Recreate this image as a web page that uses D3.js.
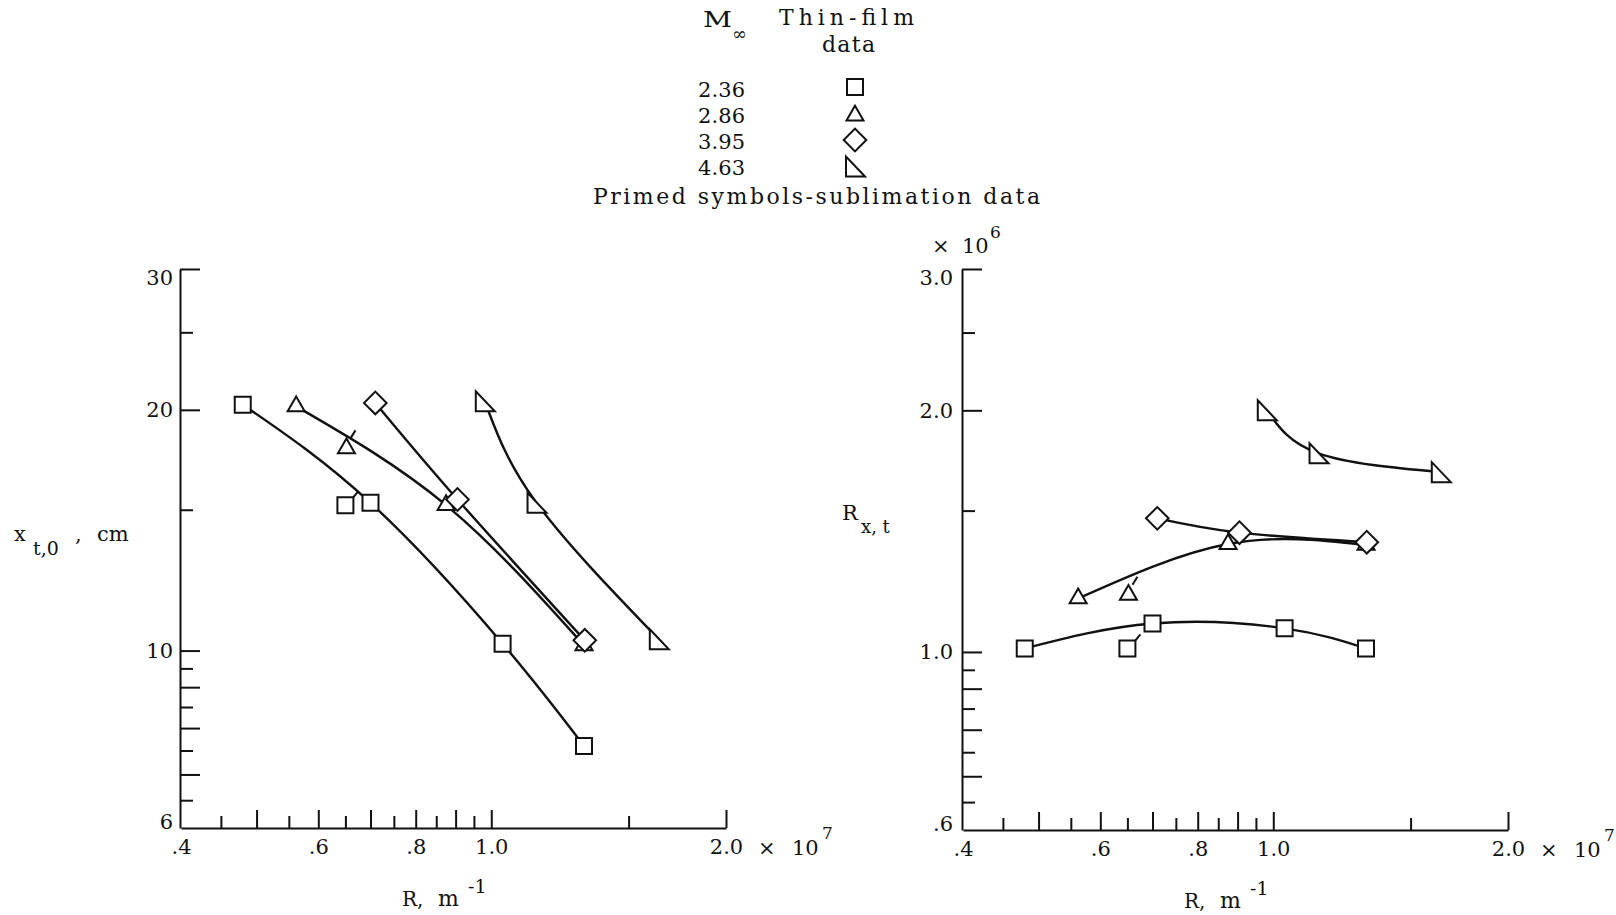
<!DOCTYPE html>
<html>
<head>
<meta charset="utf-8">
<script src="https://cdn.jsdelivr.net/npm/d3@7"></script>
<style>
  body { margin: 0; background: #fff; }
  svg { display: block; }
  text { font-family: "DejaVu Serif", "Liberation Serif", serif; fill: #111; }
</style>
</head>
<body>
<svg id="chart" width="1616" height="915"></svg>
<script>
// Free-stream Mach numbers (legend order) and their symbols
const machLabels = ["2.36", "2.86", "3.95", "4.63"];
const machSymbols = ["square", "triangle", "diamond", "rtriangle"];

// Unit Reynolds number R (x 10^7 per m) of each point, per Mach number
const R_236 = [0.48, 0.65, 0.70, 1.034, 1.315];
const R_286 = [0.562, 0.652, 0.875, 1.315];
const R_395 = [0.71, 0.905, 1.318];
const R_463 = [0.981, 1.143, 1.64];

// Transition location x_t,0 (cm)
const xt_236 = [20.3, 15.2, 15.3, 10.2, 7.6];
const xt_286 = [20.2, 17.9, 15.2, 10.15];
const xt_395 = [20.4, 15.45, 10.3];
const xt_463 = [20.5, 15.3, 10.33];

// Transition Reynolds number R_x,t (x 10^6)
const Rxt_236 = [1.01, 1.01, 1.085, 1.07, 1.01];
const Rxt_286 = [1.166, 1.178, 1.363, 1.36];
const Rxt_395 = [1.467, 1.408, 1.37];
const Rxt_463 = [2.0, 1.768, 1.675];

// Sublimation (primed) points
const primed_236 = [false, true, false, false, false];
const primed_286 = [false, true, false, false];
const primed_395 = [false, false, false];
const primed_463 = [false, false, false];

// Axis ticks
const xLabeled = [0.4, 0.6, 0.8, 1.0, 2.0];
const xLong = [0.5, 0.6, 0.7, 0.8, 0.9, 1.0, 2.0];
const xShort = [0.45, 0.55, 0.65, 0.75, 0.85, 0.95, 1.5];
const xtLabeled = [6, 10, 20, 30];
const xtLong = [7, 8, 9, 10, 20, 30];
const xtShort = [6.5, 7.5, 8.5, 9.5, 15, 25];
const RxtLabeled = [0.6, 1.0, 2.0, 3.0];
const RxtLong = [0.7, 0.8, 0.9, 1.0, 2.0, 3.0];
const RxtShort = [0.65, 0.75, 0.85, 0.95, 1.5, 2.5];

const svg = d3.select("#chart");
const INK = "#111";
const FONT = '"DejaVu Serif", "Liberation Serif", serif';

function buildSeries(R, v, primed, i) {
  return {
    symbol: machSymbols[i],
    points: R.map((r, k) => ({ r: r, v: v[k], primed: primed[k] }))
  };
}
const leftSeries = [
  buildSeries(R_236, xt_236, primed_236, 0),
  buildSeries(R_286, xt_286, primed_286, 1),
  buildSeries(R_395, xt_395, primed_395, 2),
  buildSeries(R_463, xt_463, primed_463, 3)
];
const rightSeries = [
  buildSeries(R_236, Rxt_236, primed_236, 0),
  buildSeries(R_286, Rxt_286, primed_286, 1),
  buildSeries(R_395, Rxt_395, primed_395, 2),
  buildSeries(R_463, Rxt_463, primed_463, 3)
];

// Marker outlines
function symbolPath(kind) {
  if (kind === "square" || kind === "diamond") return d3.symbol(d3.symbolSquare, 256)();
  if (kind === "triangle") return d3.symbol(d3.symbolTriangle, 125)();
  return "M-9,-10L-9,10L10,10Z";
}
function drawSymbol(g, kind, cx, cy) {
  g.append("path")
    .attr("d", symbolPath(kind))
    .attr("transform", `translate(${cx},${cy})` + (kind === "diamond" ? " rotate(45)" : ""))
    .attr("fill", "#fff")
    .attr("stroke", INK)
    .attr("stroke-width", 2);
}
function drawFlag(g, kind, cx, cy) {
  const a = kind === "triangle" ? [cx + 4, cy - 10, cx + 9, cy - 18] : [cx + 8, cy - 8, cx + 13, cy - 14];
  g.append("line")
    .attr("x1", a[0]).attr("y1", a[1]).attr("x2", a[2]).attr("y2", a[3])
    .attr("stroke", INK).attr("stroke-width", 2);
}

function styleAxis(sel) {
  sel.attr("font-family", FONT).attr("font-size", 21);
  sel.selectAll("path.domain").attr("stroke", INK).attr("stroke-width", 2);
  sel.selectAll("line").attr("stroke", INK).attr("stroke-width", 2);
  sel.selectAll("text").attr("font-size", 21).attr("fill", INK).style("font-family", FONT);
}

function drawPanel(cfg) {
  const x = d3.scaleLog().domain([0.4, 2.0]).range([cfg.x0, cfg.x0 + 545]);
  const y = d3.scaleLog().domain(cfg.yDomain).range([cfg.yBottom, 269]);
  const g = svg.append("g");

  // bottom axis: labels + frame line, then long and short ticks
  const bx = g.append("g").attr("transform", `translate(0,${cfg.yBottom})`)
    .call(d3.axisBottom(x).tickValues(xLabeled).tickSize(0).tickPadding(11)
      .tickFormat(d => d === 2 ? "2.0" : d === 1 ? "1.0" : d3.format(".1f")(d).replace(/^0/, "")));
  styleAxis(bx);
  const bl = g.append("g").attr("transform", `translate(0,${cfg.yBottom})`)
    .call(d3.axisBottom(x).tickValues(xLong).tickSizeInner(-18).tickSizeOuter(0).tickFormat(""));
  bl.select(".domain").remove(); styleAxis(bl);
  const bs = g.append("g").attr("transform", `translate(0,${cfg.yBottom})`)
    .call(d3.axisBottom(x).tickValues(xShort).tickSizeInner(-12).tickSizeOuter(0).tickFormat(""));
  bs.select(".domain").remove(); styleAxis(bs);

  // exponent after the last x label
  const ex = x(2.0);
  const t7 = g.append("text").attr("y", cfg.yBottom + 27).attr("font-size", 21);
  t7.append("tspan").attr("x", ex + 32).text("\u00d7");
  t7.append("tspan").attr("x", ex + 66).text("10");
  t7.append("tspan").attr("x", ex + 96).attr("dy", -16).attr("font-size", 17).text("7");

  // left axis
  const [yLo, yHi] = cfg.yDomain;
  const ly = g.append("g").attr("transform", `translate(${cfg.x0 - 1},0)`)
    .call(d3.axisLeft(y).tickValues(cfg.yLabeled).tickSize(0).tickPadding(cfg.pad).tickFormat(cfg.yFormat));
  styleAxis(ly);
  ly.selectAll(".tick text").attr("y", d => d === yHi ? 9 : d === yLo ? -6 : 0);
  const yl = g.append("g").attr("transform", `translate(${cfg.x0 - 1},0)`)
    .call(d3.axisLeft(y).tickValues(cfg.yLong).tickSizeInner(-20).tickSizeOuter(0).tickFormat(""));
  yl.select(".domain").remove(); styleAxis(yl);
  const ys = g.append("g").attr("transform", `translate(${cfg.x0 - 1},0)`)
    .call(d3.axisLeft(y).tickValues(cfg.yShort).tickSizeInner(-13).tickSizeOuter(0).tickFormat(""));
  ys.select(".domain").remove(); styleAxis(ys);

  // x-axis title: R, m^-1
  const xt = g.append("text").attr("y", cfg.yBottom + 78).attr("font-size", 20);
  xt.append("tspan").attr("x", cfg.x0 + 221).text("R,");
  xt.append("tspan").attr("x", cfg.x0 + 257).attr("font-size", 22).text("m");
  xt.append("tspan").attr("x", cfg.x0 + 287).attr("dy", -13).attr("font-size", 19).text("-1");

  // fairing curves through the thin-film points, then the symbols
  const line = d3.line().x(d => x(d.r)).y(d => y(d.v)).curve(d3.curveNatural);
  cfg.series.forEach(s => {
    g.append("path")
      .attr("d", line(s.points.filter(p => !p.primed)))
      .attr("fill", "none").attr("stroke", INK).attr("stroke-width", 2.4);
  });
  cfg.series.forEach(s => {
    s.points.forEach(p => {
      drawSymbol(g, s.symbol, x(p.r), y(p.v));
      if (p.primed) drawFlag(g, s.symbol, x(p.r), y(p.v));
    });
  });
  return g;
}

drawPanel({
  x0: 181, yBottom: 828, yDomain: [6, 30], pad: 7,
  yLabeled: xtLabeled, yLong: xtLong, yShort: xtShort,
  yFormat: d3.format("d"), series: leftSeries
});
drawPanel({
  x0: 963, yBottom: 830, yDomain: [0.6, 3.0], pad: 9,
  yLabeled: RxtLabeled, yLong: RxtLong, yShort: RxtShort,
  yFormat: d => d < 1 ? d3.format(".1f")(d).replace(/^0/, "") : d3.format(".1f")(d),
  series: rightSeries
});

// y-axis titles
const yt1 = svg.append("text").attr("y", 541).attr("font-size", 21);
yt1.append("tspan").attr("x", 14).text("x");
yt1.append("tspan").attr("x", 33).attr("dy", 14).attr("font-size", 19).text("t,0");
yt1.append("tspan").attr("x", 75).attr("dy", -14).text(",");
yt1.append("tspan").attr("x", 97).text("cm");

const yt2 = svg.append("text").attr("y", 520).attr("font-size", 21);
yt2.append("tspan").attr("x", 842).text("R");
yt2.append("tspan").attr("x", 861).attr("dy", 13).attr("font-size", 18).text("x, t");

const e6 = svg.append("text").attr("y", 253).attr("font-size", 21);
e6.append("tspan").attr("x", 932).text("\u00d7");
e6.append("tspan").attr("x", 962).text("10");
e6.append("tspan").attr("x", 990).attr("dy", -15).attr("font-size", 17).text("6");

// legend
const lg = svg.append("g");
const mt = lg.append("text").attr("y", 27).attr("font-size", 22);
mt.append("tspan").attr("x", 703).attr("textLength", 29).attr("lengthAdjust", "spacingAndGlyphs").text("M");
mt.append("tspan").attr("x", 732).attr("dy", 13).attr("font-size", 18).text("\u221e");
lg.append("text").attr("x", 779).attr("y", 25).attr("font-size", 22)
  .attr("textLength", 135).attr("lengthAdjust", "spacing").text("Thin-film");
lg.append("text").attr("x", 822).attr("y", 52).attr("font-size", 22)
  .attr("textLength", 53).attr("lengthAdjust", "spacing").text("data");
machLabels.forEach((lab, i) => {
  lg.append("text").attr("x", 698).attr("y", 97 + i * 26).attr("font-size", 21)
    .attr("textLength", 47).attr("lengthAdjust", "spacing").text(lab);
  drawSymbol(lg, machSymbols[i], 855, 87 + i * 26.5 + (machSymbols[i] === "triangle" ? 2 : 0));
});
lg.append("text").attr("x", 593).attr("y", 204).attr("font-size", 22)
  .attr("textLength", 447).attr("lengthAdjust", "spacing").text("Primed symbols-sublimation data");
</script>
</body>
</html>
